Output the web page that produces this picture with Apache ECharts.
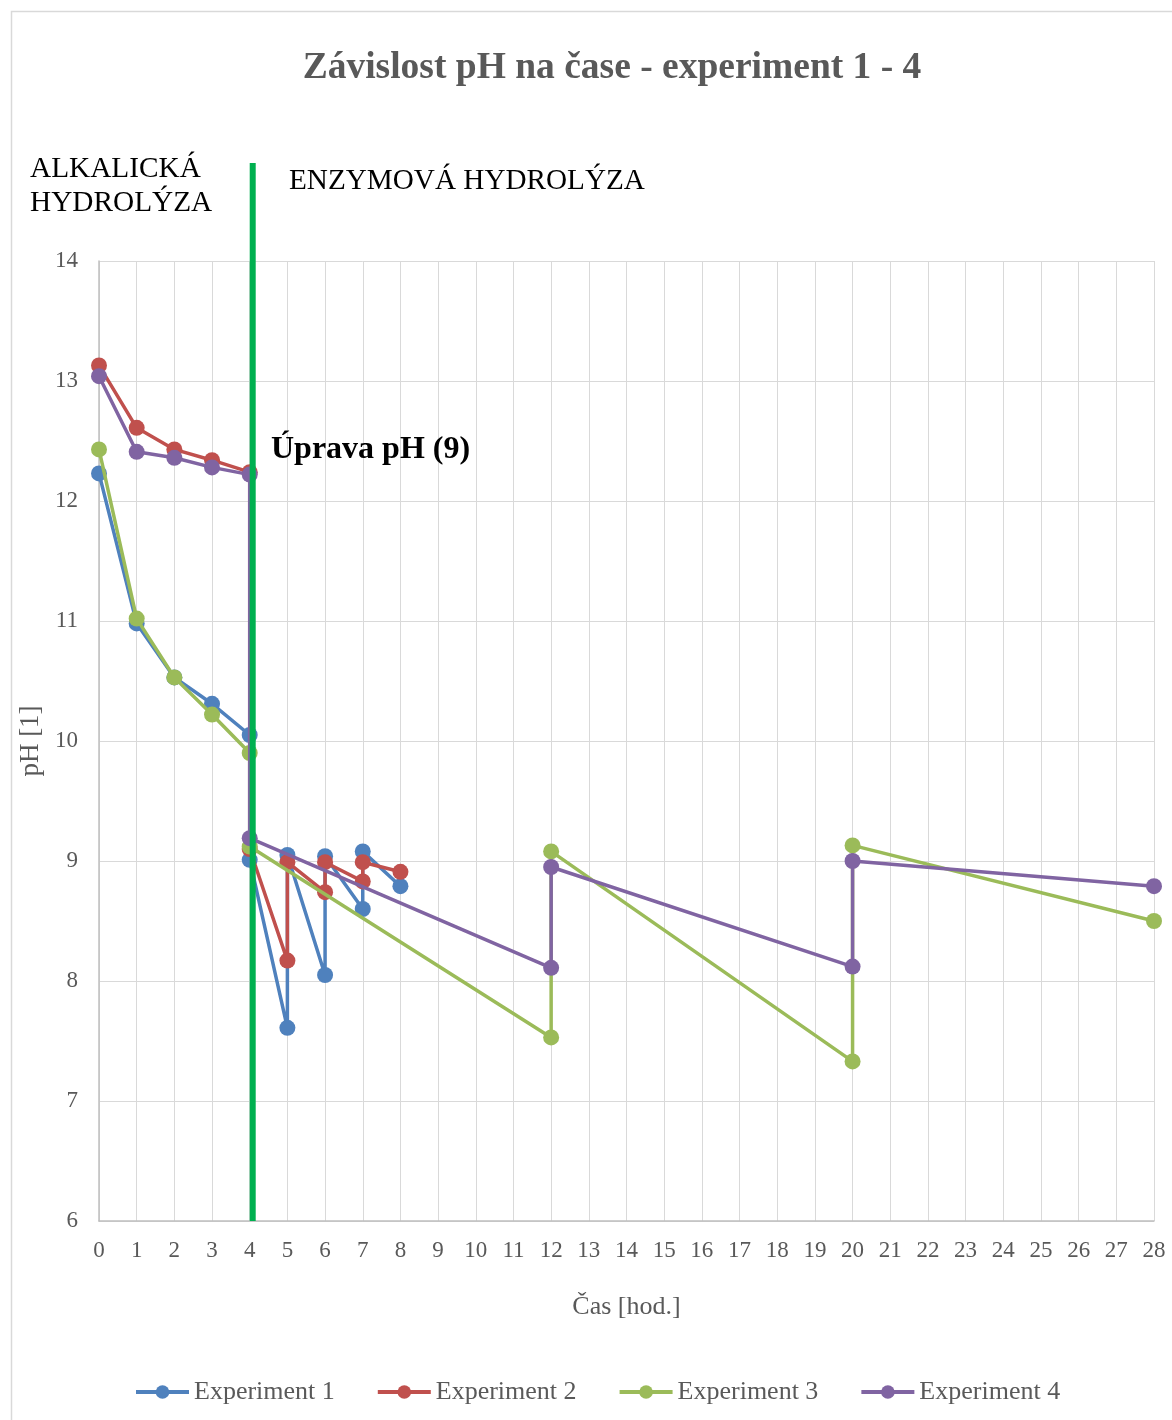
<!DOCTYPE html>
<html>
<head>
<meta charset="utf-8">
<script src="https://cdn.jsdelivr.net/npm/echarts@6/dist/echarts.min.js"></script>
<style>
html,body{margin:0;padding:0;background:#fff;}
#c{width:1172px;height:1420px;}
</style>
</head>
<body>
<div id="c"></div>
<script>
const seriesNames = ['Experiment 1', 'Experiment 2', 'Experiment 3', 'Experiment 4'];
const exp1Time = [0, 1, 2, 3, 4, 4, 5, 5, 6, 6, 7, 7, 8];
const exp1PH   = [12.23, 10.98, 10.53, 10.31, 10.05, 9.01, 7.61, 9.05, 8.05, 9.04, 8.60, 9.08, 8.79];
const exp2Time = [0, 1, 2, 3, 4, 4, 5, 5, 6, 6, 7, 7, 8];
const exp2PH   = [13.13, 12.61, 12.43, 12.34, 12.24, 9.10, 8.17, 8.99, 8.74, 8.99, 8.83, 8.99, 8.91];
const exp3Time = [0, 1, 2, 3, 4, 4, 12, 12, 20, 20, 28];
const exp3PH   = [12.43, 11.02, 10.53, 10.22, 9.90, 9.12, 7.53, 9.08, 7.33, 9.13, 8.50];
const exp4Time = [0, 1, 2, 3, 4, 4, 12, 12, 20, 20, 28];
const exp4PH   = [13.04, 12.41, 12.36, 12.28, 12.22, 9.19, 8.11, 8.95, 8.12, 9.00, 8.79];
const colors = ['#4F81BD', '#C0504D', '#9BBB59', '#8064A2'];
const phaseTime = 4;

const FONT = "'Liberation Serif', 'Times New Roman', serif";
function zip(xs, ys) { return xs.map((x, i) => [x, ys[i]]); }
const allData = [zip(exp1Time, exp1PH), zip(exp2Time, exp2PH), zip(exp3Time, exp3PH), zip(exp4Time, exp4PH)];

const chart = echarts.init(document.getElementById('c'), null, {renderer: 'canvas'});
const option = {
  backgroundColor: '#fff',
  animation: false,
  color: colors,
  title: {
    text: 'Závislost pH na čase - experiment 1 - 4',
    left: 607, top: 44, textAlign: 'center',
    textStyle: {fontFamily: FONT, fontSize: 37.5, fontWeight: 'bold', color: '#595959'}
  },
  grid: {left: 99, right: 18, top: 261, bottom: 199, containLabel: false},
  legend: {
    data: seriesNames,
    bottom: 10, left: 129,
    itemWidth: 53, itemHeight: 17, itemGap: 41,
    lineStyle: {width: 4},
    textStyle: {fontFamily: FONT, fontSize: 26, color: '#595959'}
  },
  xAxis: {
    type: 'value', min: 0, max: 28, interval: 1,
    name: 'Čas [hod.]', nameLocation: 'middle', nameGap: 73,
    nameTextStyle: {fontFamily: FONT, fontSize: 26, color: '#595959'},
    axisLine: {show: true, lineStyle: {color: '#bfbfbf', width: 1.5}},
    axisTick: {show: false},
    axisLabel: {fontFamily: FONT, fontSize: 23, color: '#595959', margin: 18},
    splitLine: {show: true, lineStyle: {color: '#d9d9d9', width: 1}}
  },
  yAxis: {
    type: 'value', min: 6, max: 14, interval: 1,
    name: 'pH [1]', nameLocation: 'middle', nameGap: 51, nameRotate: 90,
    nameTextStyle: {fontFamily: FONT, fontSize: 27, color: '#595959'},
    axisLine: {show: true, lineStyle: {color: '#bfbfbf', width: 1.5}},
    axisTick: {show: false},
    axisLabel: {fontFamily: FONT, fontSize: 23, color: '#595959', margin: 21},
    splitLine: {show: true, lineStyle: {color: '#d9d9d9', width: 1}}
  },
  series: seriesNames.map((n, i) => ({
    name: n, type: 'line', data: allData[i],
    symbol: 'circle', symbolSize: 16, showSymbol: true,
    lineStyle: {width: 3.5, color: colors[i]},
    itemStyle: {color: colors[i]},
    z: 2 + i
  }))
};
chart.setOption(option);

const xPhase = chart.convertToPixel({xAxisIndex: 0}, phaseTime) + 3;
const yBottom = chart.convertToPixel({yAxisIndex: 0}, 6);
chart.setOption({
  graphic: [
    {type: 'rect', shape: {x: 11.5, y: 11.5, width: 1200, height: 1450}, style: {fill: 'none', stroke: '#d9d9d9', lineWidth: 1.5}, silent: true, z: 0},
    {type: 'line', shape: {x1: xPhase, y1: 163, x2: xPhase, y2: yBottom}, style: {stroke: '#00B050', lineWidth: 6}, z: 100},
    {type: 'text', left: 30, top: 152, style: {text: 'ALKALICKÁ\nHYDROLÝZA', font: "29.3px " + FONT, fill: '#000', lineHeight: 34}, z: 100},
    {type: 'text', left: 289, top: 167, style: {text: 'ENZYMOVÁ HYDROLÝZA', font: "29.2px " + FONT, fill: '#000'}, z: 100},
    {type: 'text', left: 271, top: 434, style: {text: 'Úprava pH (9)', font: "bold 32px " + FONT, fill: '#000'}, z: 100}
  ]
});
</script>
</body>
</html>
